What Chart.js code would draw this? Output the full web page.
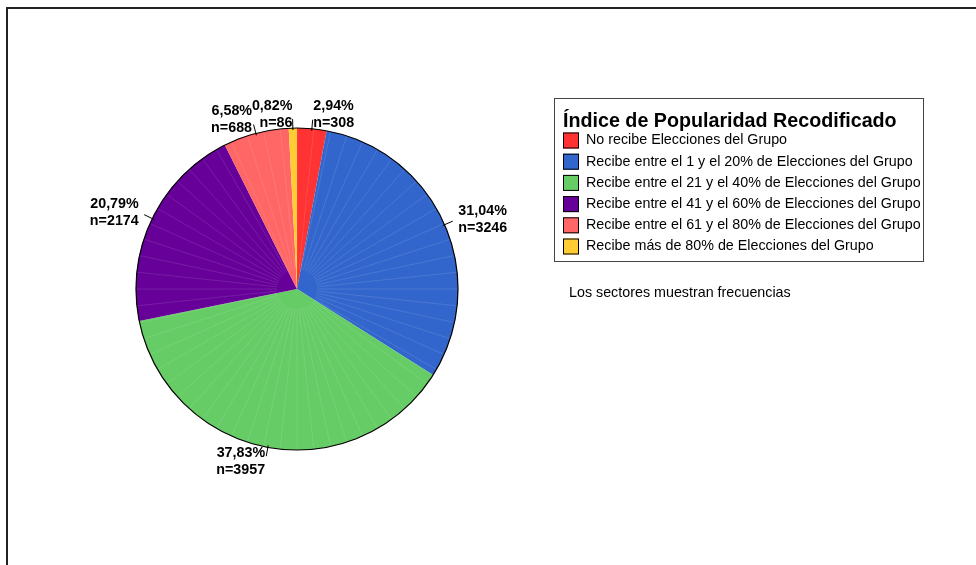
<!DOCTYPE html>
<html lang="es">
<head>
    <meta charset="UTF-8">
    <title>Índice de Popularidad Recodificado</title>
    <script src="https://cdn.jsdelivr.net/npm/chart.js"></script>
    <style>
        body { margin: 0; background: #fff; }
        canvas { display: block; }
    </style>
</head>
<body>
    <canvas id="pieChart" width="976" height="565"></canvas>

    <script>
        const categories = [
            'No recibe Elecciones del Grupo',
            'Recibe entre el 1 y el 20% de Elecciones del Grupo',
            'Recibe entre el 21 y el 40% de Elecciones del Grupo',
            'Recibe entre el 41 y el 60% de Elecciones del Grupo',
            'Recibe entre el 61 y el 80% de Elecciones del Grupo',
            'Recibe más de 80% de Elecciones del Grupo'
        ];
        const counts = [308, 3246, 3957, 2174, 688, 86];
        const sliceColors = ['#ff3333', '#3366cc', '#66cc66', '#660099', '#ff6666', '#ffcc33'];
        const legendTitle = 'Índice de Popularidad Recodificado';
        const footNote = 'Los sectores muestran frecuencias';

        const total = counts.reduce((a, b) => a + b, 0);

        // frame, outline, labels and legend box are drawn here
        const spssPlugin = {
            id: 'spss',
            afterDatasetsDraw(chart) {
                const ctx = chart.ctx;
                const arcs = chart.getDatasetMeta(0).data;
                const cx = arcs[0].x, cy = arcs[0].y, r = arcs[0].outerRadius;

                // faint fan lines inside slices
                ctx.save();
                ctx.strokeStyle = 'rgba(255,255,255,0.16)';
                ctx.lineWidth = 0.7;
                for (let a = -Math.PI / 2; a < Math.PI * 1.5; a += Math.PI / 30) {
                    ctx.beginPath();
                    ctx.moveTo(cx + 20 * Math.cos(a), cy + 20 * Math.sin(a));
                    ctx.lineTo(cx + r * Math.cos(a), cy + r * Math.sin(a));
                    ctx.stroke();
                }
                ctx.restore();

                // outer outline
                ctx.save();
                ctx.strokeStyle = '#000';
                ctx.lineWidth = 1.2;
                ctx.beginPath();
                ctx.arc(cx, cy, r, 0, Math.PI * 2);
                ctx.stroke();
                ctx.restore();

                // slice labels
                ctx.save();
                ctx.font = 'bold 14.3px "Liberation Sans", Arial, sans-serif';
                ctx.fillStyle = '#000';
                ctx.textBaseline = 'middle';
                arcs.forEach((arc, i) => {
                    const mid = (arc.startAngle + arc.endAngle) / 2;
                    const dx = Math.cos(mid), dy = Math.sin(mid);
                    ctx.strokeStyle = '#000';
                    ctx.lineWidth = 1;
                    ctx.beginPath();
                    ctx.moveTo(cx + (r - 2) * dx, cy + (r - 2) * dy);
                    ctx.lineTo(cx + (r + 9) * dx, cy + (r + 9) * dy);
                    ctx.stroke();
                    const lx = cx + (r + 15) * dx;
                    const ly = cy + (r + 14) * dy;
                    ctx.textAlign = lx >= cx ? 'left' : 'right';
                    const pct = (counts[i] / total * 100).toFixed(2).replace('.', ',') + '%';
                    ctx.fillText(pct, lx, ly - 8.5);
                    ctx.fillText('n=' + counts[i], lx, ly + 8.5);
                });
                ctx.restore();

                // legend box
                ctx.save();
                ctx.strokeStyle = '#444';
                ctx.lineWidth = 1;
                ctx.strokeRect(554.5, 98.5, 369, 163);
                ctx.fillStyle = '#000';
                ctx.textAlign = 'left';
                ctx.textBaseline = 'alphabetic';
                ctx.font = 'bold 19.7px "Liberation Sans", Arial, sans-serif';
                ctx.fillText(legendTitle, 563, 127);
                ctx.font = '14.3px "Liberation Sans", Arial, sans-serif';
                ctx.textBaseline = 'middle';
                chart.data.labels.forEach((label, i) => {
                    const y = 140.5 + i * 21.2;
                    ctx.fillStyle = sliceColors[i];
                    ctx.fillRect(563, y - 8, 16, 16);
                    ctx.strokeStyle = '#000';
                    ctx.strokeRect(563.5, y - 7.5, 15, 15);
                    ctx.fillStyle = '#000';
                    ctx.fillText(label, 586, y);
                });
                ctx.font = '14.3px "Liberation Sans", Arial, sans-serif';
                ctx.fillText(footNote, 569, 293);
                ctx.restore();

                // outer frame (cut by the page edge)
                ctx.save();
                ctx.strokeStyle = '#222';
                ctx.lineWidth = 2;
                ctx.strokeRect(7, 8, 1000, 600);
                ctx.restore();
            }
        };

        const ctx = document.getElementById('pieChart').getContext('2d');
        const pieChart = new Chart(ctx, {
            type: 'pie',
            data: {
                labels: categories,
                datasets: [{
                    data: counts,
                    backgroundColor: sliceColors,
                    borderWidth: 0
                }]
            },
            options: {
                responsive: false,
                animation: false,
                layout: {
                    padding: { left: 136, right: 518, top: 128, bottom: 115 }
                },
                plugins: {
                    legend: { display: false },
                    tooltip: { enabled: false }
                }
            },
            plugins: [spssPlugin]
        });
    </script>
</body>
</html>
